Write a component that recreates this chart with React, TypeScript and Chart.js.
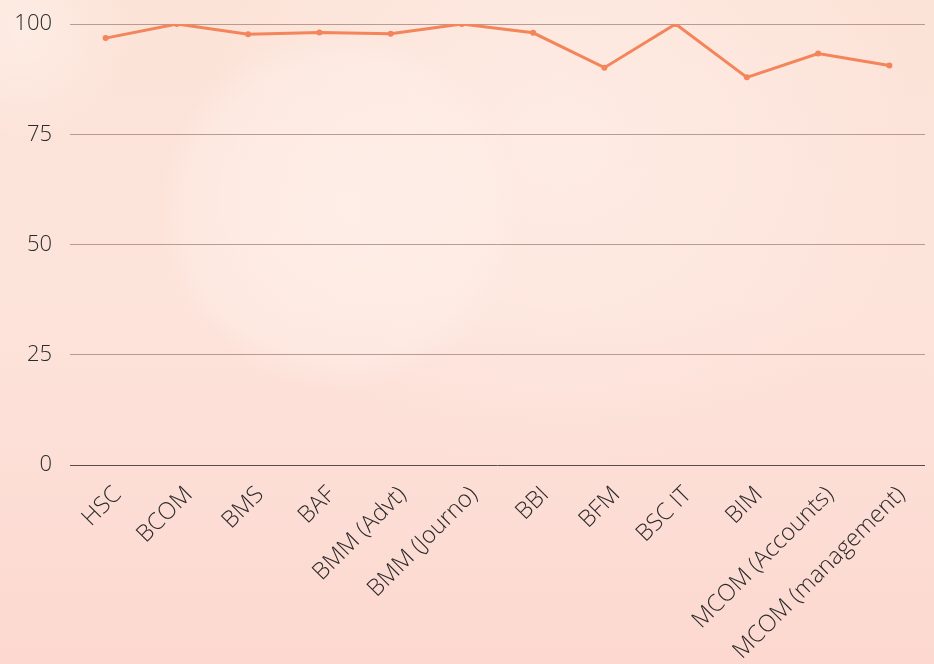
import React, { useEffect, useRef } from "react";
import { Chart, registerables } from "chart.js";

Chart.register(...registerables);

const categories = [
  "HSC",
  "BCOM",
  "BMS",
  "BAF",
  "BMM (Advt)",
  "BMM (Journo)",
  "BBI",
  "BFM",
  "BSC IT",
  "BIM",
  "MCOM (Accounts)",
  "MCOM (management)",
];

const results = [96.8, 100, 97.7, 98.1, 97.8, 100, 98, 90.1, 100, 87.9, 93.3, 90.6];

const yTicks = [0, 25, 50, 75, 100];

export default function App() {
  const canvasRef = useRef<HTMLCanvasElement | null>(null);

  useEffect(() => {
    document.body.style.margin = "0";
    const canvas = canvasRef.current;
    if (!canvas) return;
    const chart = new Chart(canvas, {
      type: "line",
      data: {
        labels: categories,
        datasets: [
          {
            label: "Result",
            data: results,
            borderColor: "#f4845a",
            backgroundColor: "#f4845a",
            borderWidth: 3,
            pointRadius: 3,
            pointBackgroundColor: "#f4845a",
            pointBorderWidth: 0,
            tension: 0,
          },
        ],
      },
      options: {
        animation: false,
        responsive: false,
        maintainAspectRatio: false,
        layout: { padding: { top: 24, right: 9, left: 0, bottom: 0 } },
        plugins: { legend: { display: false }, tooltip: { enabled: false } },
        scales: {
          x: {
            offset: true,
            grid: { display: false, drawTicks: false },
            border: { display: false },
            afterFit: (axis: any) => {
              axis.height = 199;
              axis.paddingLeft = 0;
              axis.paddingRight = 0;
            },
            ticks: {
              color: "#2a2a2a",
              maxRotation: 45,
              minRotation: 45,
              padding: 16,
              labelOffset: 12,
              autoSkip: false,
              font: { family: "Open Sans", size: 23.5, weight: "300" },
            },
          },
          y: {
            min: 0,
            max: 100,
            afterBuildTicks: (axis: any) => {
              axis.ticks = yTicks.map((v) => ({ value: v }));
            },
            afterFit: (axis: any) => {
              axis.width = 70;
              axis.paddingTop = 0;
              axis.paddingBottom = 0;
            },
            grid: {
              drawTicks: false,
              color: (ctx: any) =>
                ctx.tick && ctx.tick.value === 0 ? "#5a4a48" : "rgba(160,130,120,0.75)",
              lineWidth: 1,
            },
            border: { display: false },
            ticks: {
              color: "#2a2a2a",
              padding: 18,
              font: { family: "Open Sans", size: 22, weight: "300" },
            },
          },
        },
      },
    });
    return () => chart.destroy();
  }, []);

  return (
    <div
      style={{
        position: "fixed",
        left: 0,
        top: 0,
        width: 934,
        height: 664,
        background:
          "radial-gradient(circle at 340px 210px, rgba(255,245,240,0.5) 0px, rgba(255,242,236,0.35) 150px, rgba(255,240,235,0) 180px)," +
          "radial-gradient(circle at 20px 30px, rgba(255,246,240,0.5) 0px, rgba(255,246,240,0) 110px)," +
          "radial-gradient(ellipse at 560px 140px, rgba(255,243,238,0.5) 0px, rgba(255,243,238,0) 360px)," +
          "linear-gradient(180deg, #fce3d8 0%, #fde4db 45%, #fcd8d0 100%)",
      }}
    >
      <canvas ref={canvasRef} width={934} height={664} style={{ display: "block" }} />
    </div>
  );
}
